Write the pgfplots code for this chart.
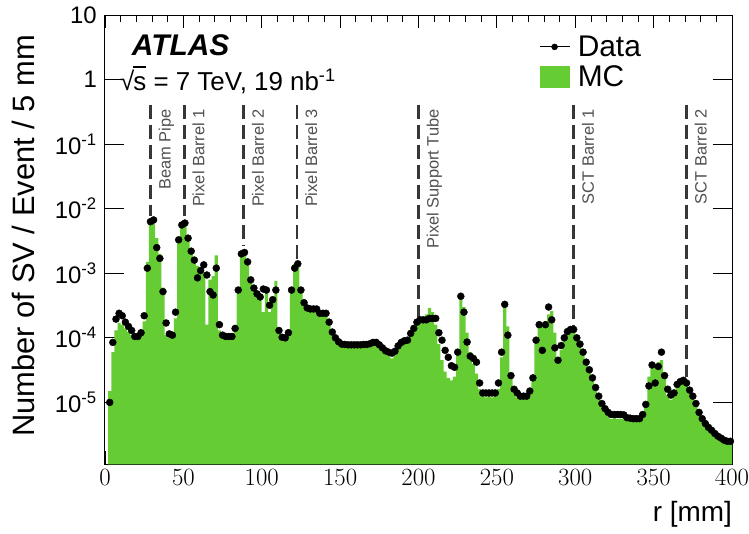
\documentclass[border=0pt]{standalone}
\usepackage{pgfplots}
\pgfplotsset{compat=1.18}
\usepackage{pgfplotstable}
\usepackage{fontspec}
\setmainfont{Liberation Sans}

\definecolor{mcgreen}{RGB}{102,204,51}
\definecolor{linegray}{RGB}{55,55,55}
\definecolor{labgray}{RGB}{80,80,80}

% r = bin centre [mm], data and MC in SV / event / 5 mm
\pgfplotstableread{
r data mc
3 1.0e-5 1.5e-5
5 8.5e-5 6e-5
7 1.95e-4 1.3e-4
9 2.4e-4 1.7e-4
11 2.2e-4 1.6e-4
13 1.75e-4 1.4e-4
15 1.5e-4 1.25e-4
17 1.3e-4 1.1e-4
19 1.05e-4 9.5e-5
21 1.05e-4 9.5e-5
23 1.2e-4 1.1e-4
25 2.2e-4 1.8e-4
27 1.2e-3 1.5e-3
29 6.3e-3 6.0e-3
31 6.7e-3 6.0e-3
33 2.5e-3 3.5e-3
35 1.7e-3 2.0e-3
37 5.2e-4 6e-4
39 1.7e-4 1.1e-4
41 1.15e-4 1.0e-4
43 1.1e-4 1.05e-4
45 2.5e-4 2.0e-4
47 3.3e-3 3.0e-3
49 5.6e-3 5.0e-3
51 6.0e-3 5.5e-3
53 3.5e-3 3.3e-3
55 2.2e-3 2.3e-3
57 1.6e-3 1.8e-3
59 8.5e-4 1.3e-3
61 1.1e-3 1.2e-3
63 1.35e-3 1.0e-3
65 9.4e-4 1.6e-4
67 5.2e-4 8e-4
69 4.6e-4 9e-4
71 1.2e-3 1.9e-3
73 1.6e-4 1.3e-4
75 1.1e-4 1.0e-4
77 1.05e-4 1.0e-4
79 1.05e-4 1.0e-4
81 1.05e-4 1.0e-4
83 1.4e-4 1.3e-4
85 5.5e-4 6e-4
87 2.0e-3 2.1e-3
89 2.1e-3 2.2e-3
91 1.5e-3 1.6e-3
93 7.9e-4 8.5e-4
95 5.9e-4 6e-4
97 4.8e-4 4.5e-4
99 4.3e-4 4e-4
101 5.7e-4 2.5e-4
103 5.5e-4 5e-4
105 3.2e-4 2.5e-4
107 3.9e-4 4e-4
109 5.5e-4 7.6e-4
111 1.3e-4 1.4e-4
113 1.02e-4 9e-5
115 1.0e-4 9e-5
117 1.2e-4 1.1e-4
119 5.5e-4 6e-4
121 1.2e-3 1.4e-3
123 1.4e-3 1.4e-3
125 5.5e-4 6e-4
127 3.5e-4 3.5e-4
129 2.9e-4 2.8e-4
131 2.8e-4 2.6e-4
133 2.8e-4 2.6e-4
135 2.8e-4 2.6e-4
137 2.4e-4 2.5e-4
139 2.4e-4 2.4e-4
141 2.4e-4 2.5e-4
143 1.75e-4 1.8e-4
145 1.23e-4 1.2e-4
147 1.0e-4 9.5e-5
149 8.7e-5 8.2e-5
151 8.0e-5 7.3e-5
153 7.9e-5 7.3e-5
155 7.8e-5 7.2e-5
157 7.8e-5 7.3e-5
159 7.8e-5 7.2e-5
161 7.8e-5 7.3e-5
163 7.8e-5 7.2e-5
165 7.9e-5 7.3e-5
167 7.9e-5 7.3e-5
169 8.1e-5 7.5e-5
171 8.5e-5 7.7e-5
173 8.5e-5 7.8e-5
175 7.8e-5 7.3e-5
177 7.0e-5 6.5e-5
179 6.3e-5 5.8e-5
181 6.0e-5 5.2e-5
183 5.8e-5 4.8e-5
185 6.2e-5 5.5e-5
187 7.5e-5 7e-5
189 8.5e-5 8e-5
191 9.0e-5 8.5e-5
193 9.2e-5 8.8e-5
195 1.17e-4 1.1e-4
197 1.4e-4 1.3e-4
199 1.75e-4 1.6e-4
201 1.9e-4 1.8e-4
203 1.9e-4 2.0e-4
205 1.9e-4 2.3e-4
207 2.0e-4 2.9e-4
209 2.0e-4 2.5e-4
211 2.0e-4 1.6e-4
213 1.2e-4 8e-5
215 9.2e-5 4.5e-5
217 6.4e-5 3e-5
219 5.0e-5 2.4e-5
221 3.7e-5 2.2e-5
223 3.5e-5 2.5e-5
225 6.0e-5 6e-5
227 4.4e-4 5e-4
229 2.5e-4 3e-4
231 8.6e-5 1.2e-4
233 5.2e-5 6e-5
235 4.8e-5 4e-5
237 4.2e-5 2.8e-5
239 2.0e-5 1.6e-5
241 1.4e-5 1.25e-5
243 1.4e-5 1.2e-5
245 1.4e-5 1.25e-5
247 1.4e-5 1.2e-5
249 1.4e-5 1.3e-5
251 2.0e-5 1.6e-5
253 6.0e-5 5e-5
255 3.3e-4 3e-4
257 1.1e-4 1.5e-4
259 2.6e-5 2.5e-5
261 1.6e-5 1.4e-5
263 1.4e-5 1.2e-5
265 1.25e-5 1.2e-5
267 1.25e-5 1.2e-5
269 1.25e-5 1.2e-5
271 1.5e-5 1.4e-5
273 2.4e-5 2.2e-5
275 9.2e-5 1.0e-4
277 1.6e-4 1.8e-4
279 6.4e-5 1.6e-4
281 1.6e-4 1.8e-4
283 3.0e-4 2.3e-4
285 1.9e-4 2.6e-4
287 7.0e-5 1.2e-4
289 4.5e-5 5e-5
291 7.6e-5 6.5e-5
293 1.0e-4 9e-5
295 1.25e-4 1.15e-4
297 1.35e-4 1.3e-4
299 1.35e-4 1.3e-4
301 1.0e-4 1.0e-4
303 8.0e-5 7.5e-5
305 6.0e-5 5.5e-5
307 4.2e-5 4e-5
309 3.2e-5 3e-5
311 2.4e-5 2.2e-5
313 1.7e-5 1.5e-5
315 1.25e-5 1.1e-5
317 9.6e-6 8.5e-6
319 8.0e-6 7e-6
321 7.0e-6 6.2e-6
323 6.5e-6 5.5e-6
325 6.5e-6 5.8e-6
327 6.5e-6 5.5e-6
329 6.5e-6 5.6e-6
331 6.4e-6 5.5e-6
333 5.8e-6 5.3e-6
335 5.7e-6 5.2e-6
337 5.6e-6 5.3e-6
339 5.6e-6 5.2e-6
341 5.6e-6 5.3e-6
343 6.5e-6 6e-6
345 9.3e-6 1.0e-5
347 1.8e-5 2.5e-5
349 3.8e-5 3.5e-5
351 2.0e-5 3.8e-5
353 3.6e-5 4.2e-5
355 6.0e-5 4.5e-5
357 2.6e-5 2.5e-5
359 1.6e-5 1.3e-5
361 1.3e-5 1.1e-5
363 1.4e-5 1.4e-5
365 1.9e-5 1.8e-5
367 2.1e-5 2.0e-5
369 2.2e-5 2.1e-5
371 2.0e-5 1.9e-5
373 1.55e-5 1.5e-5
375 1.25e-5 1.2e-5
377 9.6e-6 9e-6
379 7.0e-6 6.5e-6
381 5.6e-6 5.3e-6
383 4.7e-6 4.5e-6
385 4.1e-6 3.9e-6
387 3.7e-6 3.5e-6
389 3.3e-6 3.1e-6
391 3.0e-6 2.8e-6
393 2.8e-6 2.6e-6
395 2.6e-6 2.4e-6
397 2.5e-6 2.3e-6
399 2.5e-6 2.3e-6
401 nan 2.3e-6
}\svtable

\begin{document}
\begin{tikzpicture}
\path[use as bounding box] (-105bp,-69.7bp) rectangle (644bp,464.3bp);
\begin{axis}[
  at={(0,0)}, anchor=south west,
  scale only axis, width=627bp, height=449.3bp,
  ymode=log, log basis y=10, log origin y=infty,
  xmin=0, xmax=400, ymin=1.1e-6, ymax=10,
  xtick={0,50,...,400}, minor x tick num=4,
  ytickten={-5,-4,-3,-2,-1,0,1},
  yticklabels={10\textsuperscript{-5},10\textsuperscript{-4},10\textsuperscript{-3},10\textsuperscript{-2},10\textsuperscript{-1},1,10},
  tick align=inside,
  major tick length=13bp, minor tick length=7bp,
  ytick style={/pgfplots/major tick length=19bp,/pgfplots/minor tick length=10bp},
  every tick/.style={black, line width=0.8bp},
  axis line style={line width=1bp},
  tick label style={font=\fontsize{24}{24}\selectfont},
  xticklabel style={inner sep=0pt, anchor=north, yshift=-5bp},
  yticklabel style={inner sep=0pt, anchor=east, xshift=-8bp},
  every axis y label/.style={at={(axis description cs:-0.112,0.956)}, rotate=90, anchor=base east, inner sep=0pt, font=\fontsize{31}{31}\selectfont},
  every axis x label/.style={at={(axis description cs:1,-0.128)}, anchor=base east, inner sep=0pt, font=\fontsize{28}{28}\selectfont},
  ylabel={Number of SV / Event / 5 mm},
  xlabel={r [mm]},
  legend style={at={(axis description cs:0.692,0.954)}, anchor=north west, draw=none, fill=none, inner sep=0pt, row sep=8bp, column sep=7.7bp, font=\fontsize{30}{30}\selectfont, nodes={inner sep=0pt}},
  legend cell align=left,
  reverse legend,
]
\addplot[fill=mcgreen, draw=none, const plot,
  legend image code/.code={\fill[mcgreen] (0bp,-11bp) rectangle (30bp,11bp);}]
  table[x expr=\thisrow{r}-1, y=mc] {\svtable} \closedcycle;
\addlegendentry{MC}

\addplot[only marks, mark=*, mark size=3.5bp, black,
  legend image code/.code={\draw[black, line width=1bp] (0bp,0bp) -- (30bp,0bp); \fill[black] (15bp,0bp) circle (3bp);}]
  table[x=r, y=data] {\svtable};
\addlegendentry{Data}

\pgfplotsset{detector/.style={forget plot, linegray, line width=2.8bp, dash pattern=on 14bp off 6bp}}
\addplot[detector] coordinates {(29,0.41) (29,7.6e-3)};
\addplot[detector] coordinates {(50.5,0.41) (50.5,7.6e-3)};
\addplot[detector] coordinates {(88.5,0.41) (88.5,2.6e-3)};
\addplot[detector] coordinates {(122.5,0.41) (122.5,1.6e-3)};
\addplot[detector] coordinates {(200,0.41) (200,2.1e-4)};
\addplot[detector] coordinates {(299,0.41) (299,1.5e-4)};
\addplot[detector] coordinates {(371,0.41) (371,2.5e-5)};

\begin{scope}[every node/.style={rotate=90, anchor=north east, inner sep=0pt, text=labgray, font=\fontsize{16.5}{16.5}\selectfont}]
\node at ([xshift=8bp]axis cs:29,0.35) {Beam Pipe};
\node at ([xshift=8bp]axis cs:50.5,0.35) {Pixel Barrel 1};
\node at ([xshift=8bp]axis cs:88.5,0.35) {Pixel Barrel 2};
\node at ([xshift=8bp]axis cs:122.5,0.35) {Pixel Barrel 3};
\node at ([xshift=8bp]axis cs:200,0.35) {Pixel Support Tube};
\node at ([xshift=8bp]axis cs:299,0.35) {SCT Barrel 1};
\node at ([xshift=8bp]axis cs:371,0.35) {SCT Barrel 2};
\end{scope}

\node[anchor=base west, inner sep=0pt, font=\fontsize{30}{30}\selectfont\bfseries\itshape] at (axis description cs:0.0426,0.909) {ATLAS};
\node[anchor=base west, inner sep=0pt, font=\fontsize{26}{26}\selectfont] at (axis description cs:0.024,0.833) {√\kern-0.04em\rlap{\rule[0.86em]{0.5em}{0.055em}}s = 7 TeV, 19 nb\textsuperscript{-1}};
\end{axis}
\end{tikzpicture}
\end{document}
